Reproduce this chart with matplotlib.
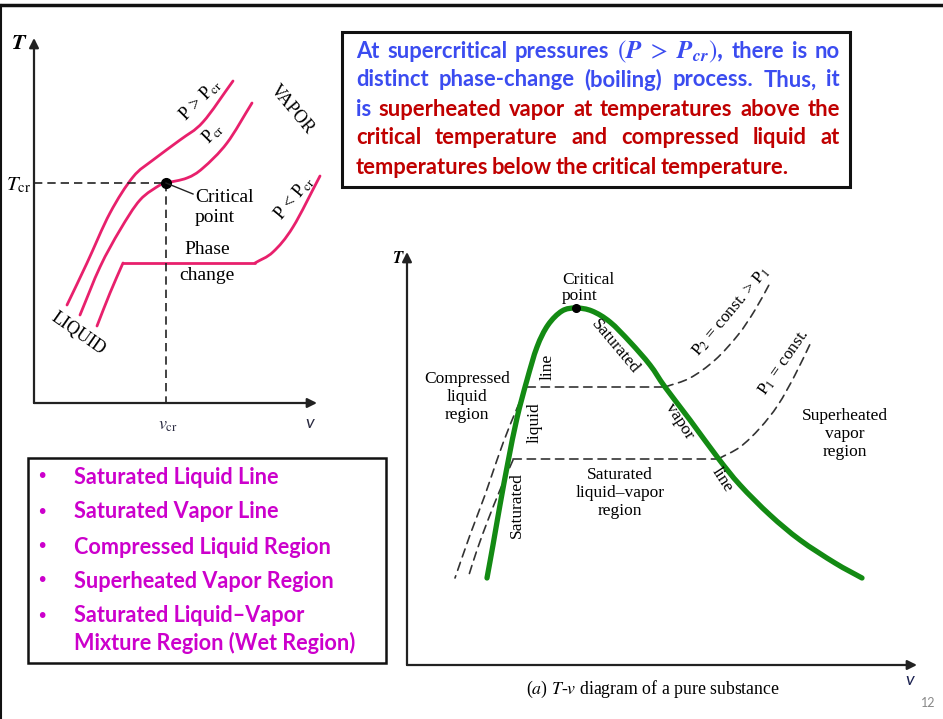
import numpy as np
import matplotlib
matplotlib.use('Agg')
import matplotlib.pyplot as plt
from matplotlib.path import Path
from matplotlib.patches import PathPatch, Rectangle

plt.rcParams['mathtext.fontset'] = 'stix'

# ---- left T-v sketch: constant pressure lines (pixel coords)
p_super = [(67, 305), (87, 263), (110, 213), (133, 177), (153, 160), (180, 140), (203, 122), (233, 81)]
p_crit = [(80, 315), (100, 267), (120, 230), (140, 200), (160, 185), (166, 183), (187, 178),
          (203, 168), (227, 143), (252, 103)]
p_sub_liq = [(97, 326), (110, 293), (123, 263)]
p_sub_flat = [(123, 263), (255, 263)]
p_sub_vap = [(255, 263), (273, 252), (293, 227), (320, 176)]
crit_left = (166, 183)

# ---- right T-v diagram: saturation dome and isobars
dome = [(487, 578), (493, 545), (500, 505), (508, 462), (517, 418), (527, 380), (537, 347),
        (548, 325), (562, 311), (576, 308), (592, 311), (610, 322), (630, 342), (650, 365),
        (665, 387), (690, 420), (718, 458), (740, 485), (770, 515), (800, 540), (835, 563), (862, 578)]
crit_right = (576, 308)
p2_flat = [(527, 387), (665, 387)]
p2_vap = [(665, 387), (690, 378), (715, 360), (738, 335), (755, 310), (770, 283)]
p2_liq = [(525, 390), (510, 425), (497, 460), (485, 495), (470, 535), (455, 578)]
p1_flat = [(513, 459), (718, 459)]
p1_vap = [(718, 459), (740, 447), (760, 428), (778, 405), (795, 375), (812, 340)]
p1_liq = [(513, 460), (500, 490), (488, 520), (477, 550), (468, 578)]

bullets = ['Saturated Liquid Line', 'Saturated Vapor Line', 'Compressed Liquid Region',
           'Superheated Vapor Region', 'Saturated Liquid\u2013Vapor', 'Mixture Region (Wet Region)']
bullet_y = [477, 512, 547, 581, 616, 643]

BLUE = '#3b4cf0'
RED = '#c00000'
note_lines = [
    [('At', BLUE), ('supercritical', BLUE), ('pressures', BLUE),
     (r'$(\mathbfit{P}\ >\ \mathbfit{P}_{\mathbfit{cr}})$,', BLUE), ('there', BLUE), ('is', BLUE), ('no', BLUE)],
    [(w, BLUE) for w in 'distinct phase-change (boiling) process. Thus, it'.split()],
    [('is', BLUE)] + [(w, RED) for w in 'superheated vapor at temperatures above the'.split()],
    [(w, RED) for w in 'critical temperature and compressed liquid at'.split()],
    [(w, RED) for w in 'temperatures below the critical temperature.'.split()],
]
note_y = [52, 80, 109, 138, 167]

PINK = '#e8206c'
GREEN = '#138a13'
SERIF = 'Liberation Serif'
SANS = 'Lato'

W, H = 943, 719
fig = plt.figure(figsize=(W / 100, H / 100), dpi=100)
ax = fig.add_axes([0, 0, 1, 1])
ax.set_xlim(0, W)
ax.set_ylim(H, 0)
ax.axis('off')


def spline(pts):
    # catmull-rom through the read points, drawn as cubic beziers
    p = np.asarray(pts, float)
    if len(p) == 2:
        return Path(p, [Path.MOVETO, Path.LINETO])
    ext = np.vstack([p[0] * 2 - p[1], p, p[-1] * 2 - p[-2]])
    verts, codes = [p[0]], [Path.MOVETO]
    for i in range(1, len(ext) - 2):
        p0, p1, p2, p3 = ext[i - 1], ext[i], ext[i + 1], ext[i + 2]
        verts += [p1 + (p2 - p0) / 6, p2 - (p3 - p1) / 6, p2]
        codes += [Path.CURVE4] * 3
    return Path(verts, codes)


def curve(pts, **kw):
    ax.add_patch(PathPatch(spline(pts), fill=False, capstyle='round', joinstyle='round', **kw))


def arrow(start, end):
    ax.annotate('', xy=end, xytext=start,
                arrowprops=dict(arrowstyle='-|>', lw=1.6, color='#222222', mutation_scale=14,
                                shrinkA=0, shrinkB=0))


# slide frame
ax.plot([0, W], [5, 5], color='#111111', lw=2.5)
ax.plot([1, 1], [5, H], color='#111111', lw=1.5)

# ---------------- left sketch
arrow((34, 403), (34, 38))
arrow((34, 403), (317, 403))
dash = dict(color='#222222', lw=1.2, ls=(0, (5, 3)))
ax.plot([34, crit_left[0]], [crit_left[1]] * 2, **dash)
ax.plot([crit_left[0]] * 2, [crit_left[1], 403], **dash)
for pts in (p_super, p_crit, p_sub_liq, p_sub_flat, p_sub_vap):
    curve(pts, color=PINK, lw=2.0)
ax.plot(*crit_left, 'o', color='k', ms=7)
ax.plot([crit_left[0], 193], [crit_left[1], 194], color='#222222', lw=1)

ax.text(19, 43, r'$\mathbfit{T}$', fontsize=16, ha='center', va='center')
ax.text(19, 185, r'$\mathit{T}_{\mathrm{cr}}$', fontsize=15, ha='center', va='center')
ax.text(168, 425, r'$\mathit{v}_{\mathrm{cr}}$', fontsize=13, color='#2a2a40', ha='center', va='center')
ax.text(310, 423, 'v', fontsize=13, family=SANS, style='italic', color='#2a2a40', ha='center', va='center')
ax.text(195, 197, 'Critical', fontsize=14, family=SERIF, ha='left', va='center')
ax.text(195, 218, 'point', fontsize=14, family=SERIF, ha='left', va='center')
ax.text(207, 250, 'Phase', fontsize=14, family=SERIF, ha='center', va='center')
ax.text(207, 276, 'change', fontsize=14, family=SERIF, ha='center', va='center')
rot = dict(family=SERIF, ha='center', va='center', rotation_mode='anchor')
ax.text(78, 334, 'LIQUID', fontsize=13, rotation=-35, **rot)
ax.text(292, 110, 'VAPOR', fontsize=13, rotation=-50, **rot)
ax.text(200, 100, r'P > P$_{\mathrm{cr}}$', fontsize=13, rotation=45, **rot)
ax.text(213, 133, r'P$_{\mathrm{cr}}$', fontsize=13, rotation=45, **rot)
ax.text(294, 198, r'P < P$_{\mathrm{cr}}$', fontsize=13, rotation=50, **rot)

# ---------------- right diagram
arrow((407, 665), (407, 252))
arrow((407, 665), (917, 665))
dash2 = dict(color='#333333', lw=1.2, ls=(0, (5, 3.5)))
for pts in (p2_flat, p2_vap, p2_liq, p1_flat, p1_vap, p1_liq):
    curve(pts, **dash2)
curve(dome, color=GREEN, lw=3.8)
ax.plot(*crit_right, 'o', color='k', ms=5.5)

ax.text(398, 258, r'$\mathbfit{T}$', fontsize=12, ha='center', va='center')
ax.text(910, 680, 'v', fontsize=13, family=SANS, style='italic', color='#1a2050', ha='center', va='center')
ax.text(653, 689, r'($\mathit{a}$) $\mathit{T}$-$\mathit{v}$ diagram of a pure substance',
        fontsize=12.8, family=SERIF, ha='center', va='center')
sz = 12.5
lab = dict(fontsize=sz, family=SERIF, ha='center', va='center', linespacing=1.15)
ax.text(562, 288, 'Critical\npoint', fontsize=sz, family=SERIF, ha='left', va='center', linespacing=0.95)
ax.text(467, 397, 'Compressed\nliquid\nregion', **lab)
ax.text(845, 434, 'Superheated\nvapor\nregion', **lab)
ax.text(620, 493, 'Saturated\nliquid\u2013vapor\nregion', **lab)
ax.text(548, 367, 'line', fontsize=sz, rotation=90, **rot)
ax.text(535, 423, 'liquid', fontsize=sz, rotation=90, **rot)
ax.text(517, 505, 'Saturated', fontsize=sz, rotation=90, **rot)
ax.text(615, 347, 'Saturated', fontsize=sz, rotation=-50, **rot)
ax.text(679, 421, 'vapor', fontsize=sz, rotation=-57, **rot)
ax.text(722, 480, 'line', fontsize=sz, rotation=-57, **rot)
ax.text(731, 312, r'P$_2$ = const. > P$_1$', fontsize=sz, rotation=50, **rot)
ax.text(784, 362, r'P$_1$ = const.', fontsize=sz, rotation=55, **rot)

# ---------------- note box (justified text)
ax.add_patch(Rectangle((342, 32), 508, 155, fill=False, ec='#111111', lw=2.2))
renderer = fig.canvas.get_renderer()
x0, x1 = 356, 840
for i, (words, y) in enumerate(zip(note_lines, note_y)):
    items = [ax.text(0, y, w, color=c, fontsize=18 if w.startswith('$') else 15.8,
                     family=SANS, weight='bold', va='center')
             for w, c in words]
    widths = [t.get_window_extent(renderer=renderer).width for t in items]
    if i < len(note_lines) - 1:
        gap = (x1 - x0 - sum(widths)) / (len(items) - 1)
    else:
        gap = 3.5
    x = x0
    for t, w in zip(items, widths):
        t.set_x(x)
        x += w + gap

# ---------------- bullet box
ax.add_patch(Rectangle((28, 458), 358, 205, fill=False, ec='#111111', lw=1.8))
MAG = '#cc00cc'
for j, (txt, y) in enumerate(zip(bullets, bullet_y)):
    if j != 5:
        ax.text(42, y, '\u2022', color=MAG, fontsize=14, va='center', ha='center')
    ax.text(74, y, txt, color=MAG, fontsize=15.6, family=SANS, weight='bold', va='center')

ax.text(928, 703, '12', color='#888888', fontsize=9, family=SANS, ha='center', va='center')

fig.savefig('out.png', dpi=100)
